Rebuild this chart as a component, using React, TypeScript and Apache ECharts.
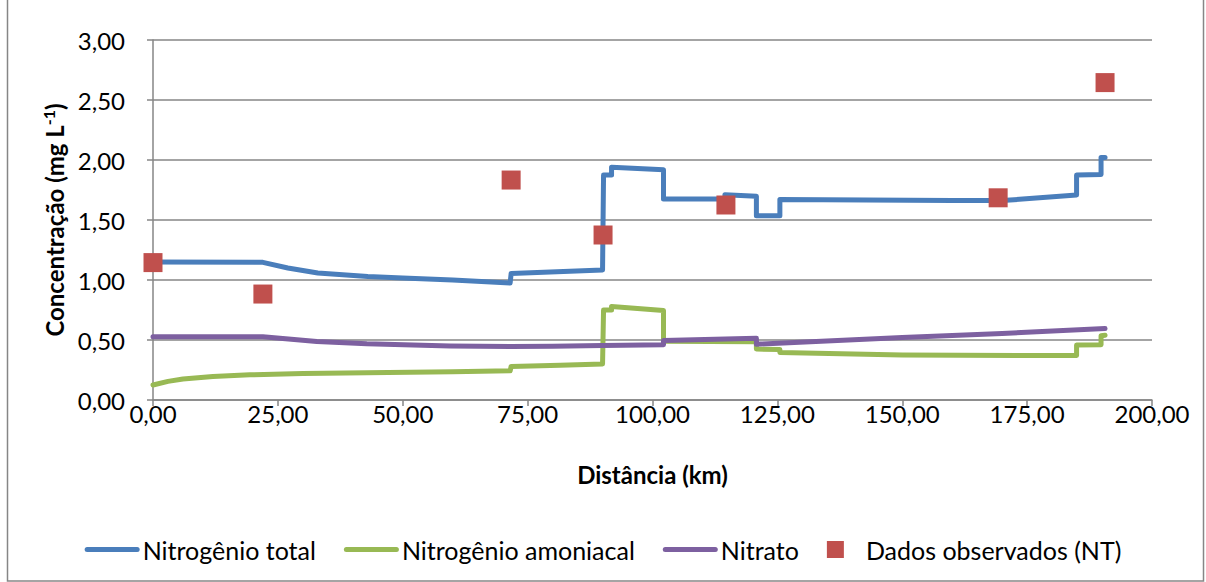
import React, { useEffect, useRef } from "react";
import * as echarts from "echarts";

const xTicks = [0, 25, 50, 75, 100, 125, 150, 175, 200];
const yTicks = [0, 0.5, 1, 1.5, 2, 2.5, 3];

const seriesNames = ["Nitrogênio total", "Nitrogênio amoniacal", "Nitrato", "Dados observados (NT)"];

const nitrogenioTotal: [number, number][] = [
  [0, 1.15], [22, 1.147], [27, 1.1], [33, 1.058], [43, 1.03], [50, 1.017], [60, 1.0], [71.5, 0.975],
  [71.7, 1.055], [90, 1.083], [90.2, 1.875], [91.8, 1.875], [91.8, 1.94], [102.2, 1.918],
  [102.2, 1.675], [114.5, 1.675], [114.5, 1.71], [120.8, 1.697], [120.8, 1.535], [125.5, 1.535],
  [125.5, 1.67], [160, 1.663], [170, 1.662], [184.9, 1.708], [184.9, 1.875], [189.8, 1.88],
  [189.8, 2.02], [190.6, 2.02],
];

const nitrogenioAmoniacal: [number, number][] = [
  [0, 0.125], [3, 0.155], [6, 0.175], [12, 0.195], [19.4, 0.21], [30, 0.22], [42.8, 0.228],
  [60, 0.236], [71.5, 0.243], [71.7, 0.28], [81.5, 0.29], [90, 0.3], [90.2, 0.75], [91.8, 0.75],
  [91.8, 0.78], [102.2, 0.745], [102.2, 0.49], [120.8, 0.485], [120.8, 0.425], [125.5, 0.42],
  [125.5, 0.395], [150, 0.375], [184.9, 0.37], [184.9, 0.458], [189.8, 0.46], [189.8, 0.535],
  [190.6, 0.54],
];

const nitrato: [number, number][] = [
  [0, 0.528], [22, 0.528], [32.8, 0.488], [42.8, 0.468], [59.5, 0.45], [71.6, 0.445],
  [80, 0.448], [90, 0.455], [102.2, 0.46], [102.2, 0.495], [120.8, 0.515], [120.8, 0.465],
  [150, 0.52], [170, 0.555], [190.6, 0.595],
];

const dadosObservados: [number, number][] = [
  [0, 1.145], [22, 0.883], [71.7, 1.833], [90.1, 1.375], [114.7, 1.625], [169.2, 1.685], [190.6, 2.645],
];

const fmt = (v: number) => v.toFixed(2).replace(".", ",");
const FONT = "Lato";
const FS = 24;
const LINE_ICON = "path://M2.5,0L52.5,0A2.5,2.5 0 0 1 52.5,5L2.5,5A2.5,2.5 0 0 1 2.5,0Z";
const SQUARE_ICON = "path://M0,0L10,0L10,10L0,10Z";

export default function App() {
  const ref = useRef<HTMLDivElement>(null);
  useEffect(() => {
    if (!ref.current) return;
    const chart = echarts.init(ref.current, undefined, { renderer: "svg" });
    const lineCommon = (color: string) => ({
      type: "line" as const,
      symbol: "none",
      showSymbol: false,
      lineStyle: { color, width: 5, cap: "round", join: "round" },
      itemStyle: { color },
    });
    chart.setOption({
      animation: false,
      backgroundColor: "#ffffff",
      textStyle: { fontFamily: FONT },
      grid: { left: 153, right: 54, top: 40, bottom: 182, containLabel: false },
      graphic: [
        {
          type: "rect",
          shape: { x: 7.5, y: -5, width: 1196, height: 586 },
          style: { fill: "none", stroke: "#868686", lineWidth: 1.5 },
          silent: true,
        },
      ],
      legend: {
        data: [
          { name: seriesNames[0], icon: LINE_ICON },
          { name: seriesNames[1], icon: LINE_ICON },
          { name: seriesNames[2], icon: LINE_ICON },
          { name: seriesNames[3], icon: SQUARE_ICON },
        ],
        top: 532,
        left: "center",
        itemWidth: 55,
        itemHeight: 17,
        itemGap: 28,
        symbolKeepAspect: true,
        textStyle: { fontFamily: FONT, fontSize: 25, color: "#000", padding: [0, 0, 0, -2] },
      },
      xAxis: {
        type: "value",
        min: 0,
        max: 200,
        interval: 25,
        name: "Distância (km)",
        nameLocation: "middle",
        nameGap: 62,
        nameTextStyle: { fontFamily: FONT, fontSize: FS, fontWeight: "bold", color: "#000" },
        axisLine: { show: true, lineStyle: { color: "#868686", width: 1.5 } },
        axisTick: { show: true, length: 6, lineStyle: { color: "#868686", width: 1.5 } },
        axisLabel: { formatter: (v: number) => fmt(v), fontFamily: FONT, fontSize: FS, color: "#000", margin: 1 },
        splitLine: { show: false },
      },
      yAxis: {
        type: "value",
        min: 0,
        max: 3,
        interval: 0.5,
        name: "{t|Concentração (mg L}{s|-1}{t|)}",
        nameLocation: "middle",
        nameGap: 80,
        nameRotate: 90,
        nameTextStyle: {
          rich: {
            t: { fontFamily: FONT, fontSize: FS, fontWeight: "bold", color: "#000" },
            s: { fontFamily: FONT, fontSize: 16, fontWeight: "bold", color: "#000", verticalAlign: "top", padding: [0, 0, 12, 0] },
          },
        },
        axisLine: { show: true, lineStyle: { color: "#868686", width: 1.5 } },
        axisTick: { show: true, length: 6, lineStyle: { color: "#868686", width: 1.5 } },
        axisLabel: { formatter: (v: number) => fmt(v), fontFamily: FONT, fontSize: FS, color: "#000", margin: 28 },
        splitLine: { show: true, lineStyle: { color: "#868686", width: 1.5 } },
      },
      series: [
        { name: seriesNames[0], ...lineCommon("#4A7EBB"), data: nitrogenioTotal, z: 3 },
        { name: seriesNames[1], ...lineCommon("#98B954"), data: nitrogenioAmoniacal, z: 3 },
        { name: seriesNames[2], ...lineCommon("#7D60A0"), data: nitrato, z: 3 },
        {
          name: seriesNames[3],
          type: "scatter",
          symbol: "rect",
          symbolSize: 19,
          data: dadosObservados,
          itemStyle: { color: "#C0504D", opacity: 1 },
          z: 5,
        },
      ],
    });
    return () => chart.dispose();
  }, []);
  return (
    <div
      ref={ref}
      style={{ position: "absolute", left: 0, top: 0, width: 1206, height: 582 }}
    />
  );
}
